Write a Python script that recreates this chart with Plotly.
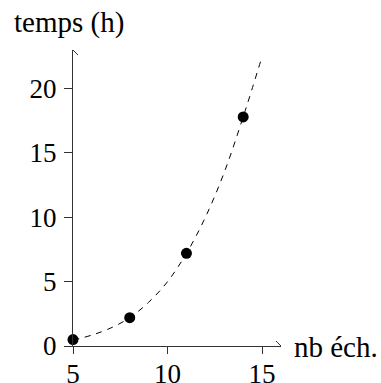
import plotly.graph_objects as go

# data
nb_ech = [5, 8, 11, 14]
temps_h = [0.5, 2.2, 7.2, 17.8]

# dashed trend curve
curve_x = [5, 6, 7, 8, 9, 10, 11, 12, 13, 14, 15]
curve_y = [0.45, 0.85, 1.4, 2.2, 3.4, 5.0, 7.2, 10.0, 13.5, 17.8, 22.5]

x_ticks = [5, 10, 15]
y_ticks = [0, 5, 10, 15, 20]

FONT = "Liberation Serif"
FS = 27
LFS = 29

fig = go.Figure()
fig.add_trace(go.Scatter(x=curve_x, y=curve_y, mode="lines", line=dict(color="black", width=1, dash="6px,6px", shape="spline"),
                         cliponaxis=False, hoverinfo="skip"))
fig.add_trace(go.Scatter(x=nb_ech, y=temps_h, mode="markers", marker=dict(color="black", size=11),
                         cliponaxis=False))

fig.update_layout(
    width=381, height=383,
    margin=dict(l=73, r=100, t=50, b=37, autoexpand=False),
    plot_bgcolor="white", paper_bgcolor="white",
    showlegend=False,
    font=dict(family=FONT, size=FS, color="black"),
    xaxis=dict(range=[5, 16], tickvals=x_ticks, ticks="outside", ticklen=7, tickcolor="#333",
               showline=True, linecolor="#333", linewidth=1, showgrid=False, zeroline=False,
               automargin=False, ticklabelstandoff=-3, tickfont=dict(family=FONT, size=FS)),
    yaxis=dict(range=[0, 23], tickvals=y_ticks, ticks="outside", ticklen=8, tickcolor="#333",
               showline=True, linecolor="#333", linewidth=1, showgrid=False, zeroline=False,
               automargin=False, ticklabelstandoff=2, tickfont=dict(family=FONT, size=FS)),
)

# arrow heads
fig.add_shape(type="path", xref="x", yref="y", xsizemode="pixel", ysizemode="pixel",
              xanchor=16, yanchor=0, path="M -5 5 L 0 0 L -5 -5", line=dict(color="#333", width=1))
fig.add_shape(type="path", xref="x", yref="y", xsizemode="pixel", ysizemode="pixel",
              xanchor=5, yanchor=23, path="M -5 -5 L 0 0 L 5 -5", line=dict(color="#333", width=1))

fig.add_annotation(text="temps (h)", xref="paper", yref="paper", x=0, y=1.0, xshift=-61, yshift=28,
                   xanchor="left", yanchor="middle", showarrow=False, font=dict(family=FONT, size=LFS))
fig.add_annotation(text="nb éch.", xref="paper", yref="paper", x=1.0, y=0, xshift=11, yshift=-1,
                   xanchor="left", yanchor="middle", showarrow=False, font=dict(family=FONT, size=LFS))

fig.write_html("out.html", config={"displayModeBar": False},
               post_script="document.body.style.margin='0';document.body.style.overflow='hidden';")
